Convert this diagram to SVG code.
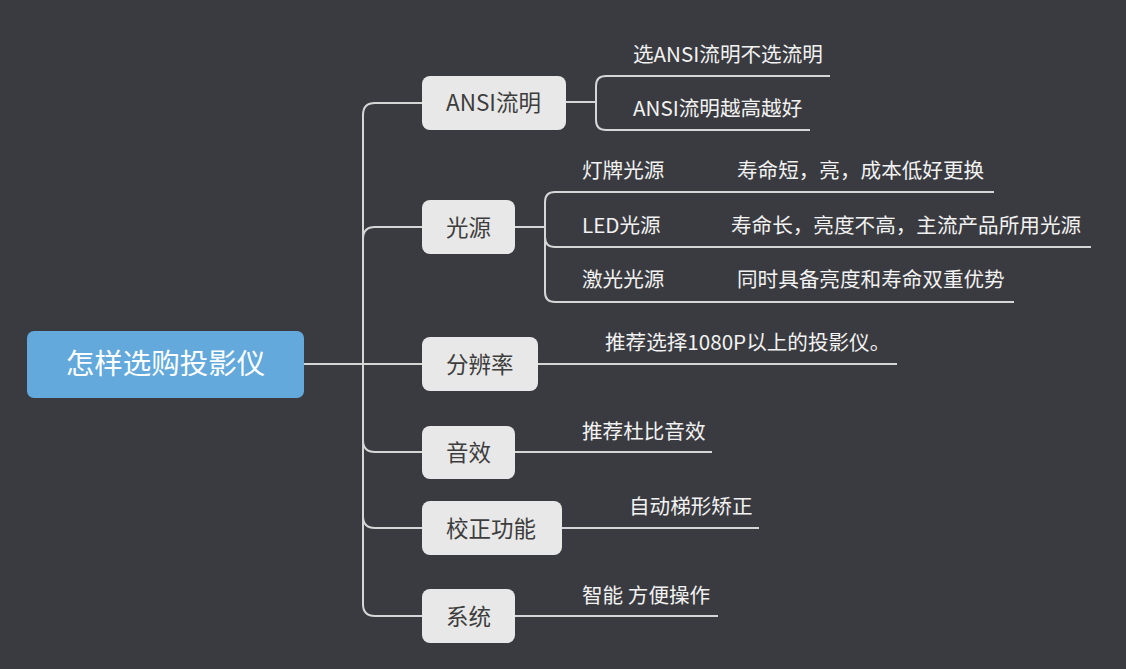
<svg xmlns="http://www.w3.org/2000/svg" width="1126" height="669" viewBox="0 0 1126 669">
<style>
.bg{fill:#3a3b40}
.ln{fill:none;stroke:#d6d6d6;stroke-width:2}
.node rect{fill:#e8e8e8}
.node text{fill:#3d3d3d;font-family:"Noto Sans CJK SC","Noto Sans",sans-serif;font-size:22.5px;dominant-baseline:central}
.root rect{fill:#63a9db}
.root text{fill:#ffffff;font-family:"Noto Sans CJK SC","Noto Sans",sans-serif;font-size:28.5px;dominant-baseline:central;text-anchor:middle}
.sub text{fill:#f2f2f2;font-family:"Noto Sans CJK SC","Noto Sans",sans-serif;font-size:20.6px;dominant-baseline:central}
</style>
<rect class="bg" x="0" y="0" width="1126" height="669"/>
<g id="connectors">
  <path class="ln" d="M304 364 H422"/>
  <path class="ln" d="M422 103 H375 Q363 103 363 115 V604 Q363 616 375 616 H422"/>
  <path class="ln" d="M363 239 Q363 227 375 227 H422"/>
  <path class="ln" d="M363 440 Q363 452 375 452 H422"/>
  <path class="ln" d="M363 516 Q363 528 375 528 H422"/>
  <path class="ln" d="M566 102 H596"/>
  <path class="ln" d="M830 76 H606 Q596 76 596 86 V120 Q596 130 606 130 H810"/>
  <path class="ln" d="M515 227 H545"/>
  <path class="ln" d="M994 192 H555 Q545 192 545 202 V292 Q545 302 555 302 H1014"/>
  <path class="ln" d="M545 237 Q545 247 555 247 H1091"/>
  <path class="ln" d="M538 364 H897"/>
  <path class="ln" d="M515 452 H712"/>
  <path class="ln" d="M562 528 H759"/>
  <path class="ln" d="M515 616 H718"/>
</g>
<g id="root" class="root">
  <rect x="27" y="331" width="277" height="67" rx="7"/>
  <text x="165.5" y="361.5">怎样选购投影仪</text>
</g>
<g id="n-ansi" class="node">
  <rect x="422" y="76" width="144" height="54" rx="8"/>
  <text x="446" y="100.5">ANSI流明</text>
</g>
<g id="n-light" class="node">
  <rect x="422" y="200" width="93" height="54" rx="8"/>
  <text x="446" y="225.5">光源</text>
</g>
<g id="n-res" class="node">
  <rect x="422" y="337" width="116" height="54" rx="8"/>
  <text x="446" y="362.5">分辨率</text>
</g>
<g id="n-audio" class="node">
  <rect x="422" y="426" width="93" height="53" rx="8"/>
  <text x="446" y="450.5">音效</text>
</g>
<g id="n-correct" class="node">
  <rect x="422" y="501" width="140" height="54" rx="8"/>
  <text x="446" y="526.5">校正功能</text>
</g>
<g id="n-system" class="node">
  <rect x="422" y="589" width="93" height="54" rx="8"/>
  <text x="446" y="614.5">系统</text>
</g>
<g id="s-ansi1" class="sub"><text x="633" y="52.5">选ANSI流明不选流明</text></g>
<g id="s-ansi2" class="sub"><text x="633" y="106.5">ANSI流明越高越好</text></g>
<g id="s-lamp" class="sub"><text x="582" y="168.5">灯牌光源</text><text x="737" y="168.5">寿命短，亮，成本低好更换</text></g>
<g id="s-led" class="sub"><text x="582" y="223.5">LED光源</text><text x="731" y="223.5">寿命长，亮度不高，主流产品所用光源</text></g>
<g id="s-laser" class="sub"><text x="582" y="277.5">激光光源</text><text x="737" y="277.5">同时具备亮度和寿命双重优势</text></g>
<g id="s-res" class="sub"><text x="605" y="340.5">推荐选择1080P以上的投影仪。</text></g>
<g id="s-audio" class="sub"><text x="582" y="429.5">推荐杜比音效</text></g>
<g id="s-correct" class="sub"><text x="629" y="504.5">自动梯形矫正</text></g>
<g id="s-system" class="sub"><text x="582" y="593.5">智能 方便操作</text></g>
</svg>
